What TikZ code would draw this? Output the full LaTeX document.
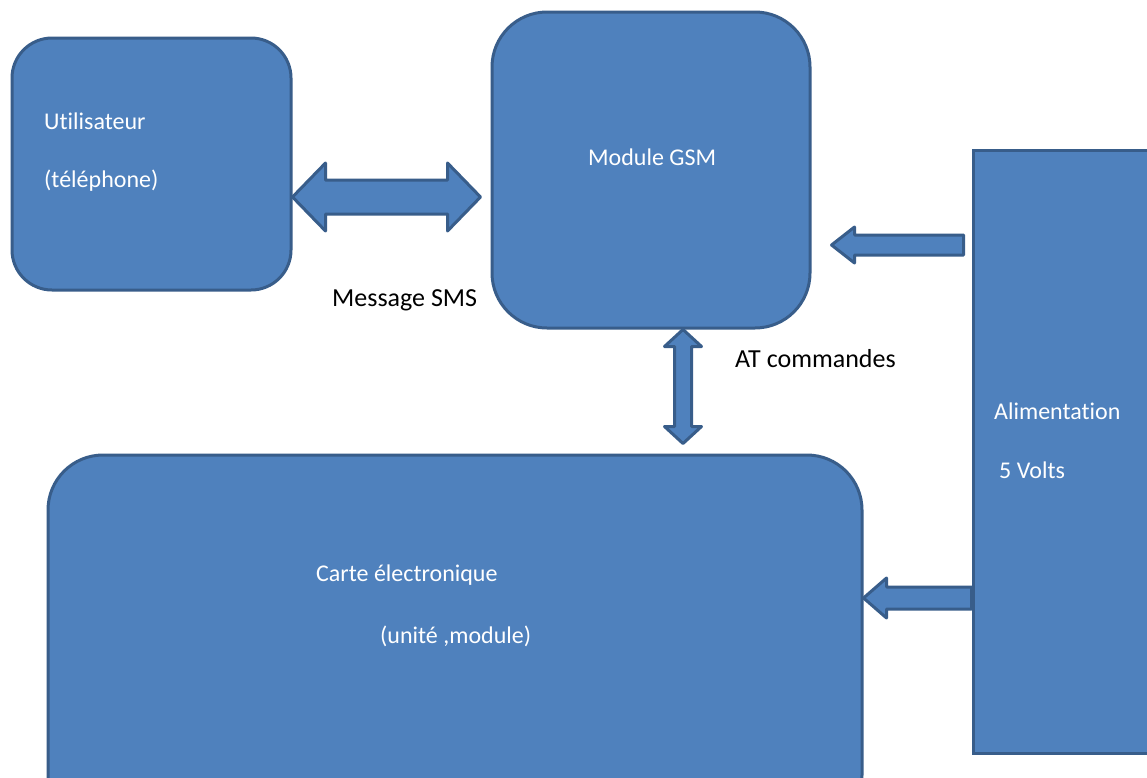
\documentclass[tikz,border=0pt]{standalone}
\usepackage{fontspec}
\setmainfont{Carlito}[Ligatures=CommonOff]
\usetikzlibrary{calc}
\definecolor{blu}{HTML}{4F81BD}
\definecolor{bord}{HTML}{385D8A}
\tikzset{
  box/.style={draw=bord, fill=blu, line width=3pt, inner sep=0pt},
  wtxt/.style={text=white, font=\fontsize{24}{28}\selectfont, anchor=base west, inner sep=0pt},
  btxt/.style={text=black, font=\fontsize{26}{30}\selectfont, anchor=base west, inner sep=0pt},
  shaftw/.store in=\bShaft, headw/.store in=\bHead, headl/.store in=\bHeadL,
  arrowlook/.style={draw=bord, fill=blu, line width=3pt, line join=round},
  sarrow/.style={arrowlook, to path={
    ($(\tikztostart)!\bShaft!90:(\tikztotarget)$)
    -- ($(\tikztotarget)!\bHeadL!(\tikztostart)!\bShaft!90:(\tikztotarget)$)
    -- ($(\tikztotarget)!\bHeadL!(\tikztostart)!\bHead!90:(\tikztotarget)$)
    -- (\tikztotarget)
    -- ($(\tikztotarget)!\bHeadL!(\tikztostart)!\bHead!-90:(\tikztotarget)$)
    -- ($(\tikztotarget)!\bHeadL!(\tikztostart)!\bShaft!-90:(\tikztotarget)$)
    -- ($(\tikztostart)!\bShaft!-90:(\tikztotarget)$)
    -- cycle}},
  darrow/.style={arrowlook, to path={
    (\tikztostart)
    -- ($(\tikztostart)!\bHeadL!(\tikztotarget)!\bHead!90:(\tikztotarget)$)
    -- ($(\tikztostart)!\bHeadL!(\tikztotarget)!\bShaft!90:(\tikztotarget)$)
    -- ($(\tikztotarget)!\bHeadL!(\tikztostart)!\bShaft!90:(\tikztotarget)$)
    -- ($(\tikztotarget)!\bHeadL!(\tikztostart)!\bHead!90:(\tikztotarget)$)
    -- (\tikztotarget)
    -- ($(\tikztotarget)!\bHeadL!(\tikztostart)!\bHead!-90:(\tikztotarget)$)
    -- ($(\tikztotarget)!\bHeadL!(\tikztostart)!\bShaft!-90:(\tikztotarget)$)
    -- ($(\tikztostart)!\bHeadL!(\tikztotarget)!\bShaft!-90:(\tikztotarget)$)
    -- ($(\tikztostart)!\bHeadL!(\tikztotarget)!\bHead!-90:(\tikztotarget)$)
    -- cycle}},
}
\begin{document}
\begin{tikzpicture}[x=1pt, y=-1pt]
  \useasboundingbox (0,0) rectangle (1147,777);
  \fill[white] (0,0) rectangle (1147,777);
  \clip (0,0) rectangle (1147,777);
  % boxes
  \node[box, rounded corners=40pt, minimum width=279pt, minimum height=252pt] (u) at (151.5,164) {};
  \node[box, rounded corners=55pt, minimum width=318pt, minimum height=316pt] (gsm) at (651,170) {};
  \node[box, minimum width=187pt, minimum height=603pt] (alim) at (1066.5,451.5) {};
  \node[box, rounded corners=55pt, minimum width=814pt, minimum height=375pt] (carte) at (455,642.5) {};
  % connector end points
  \coordinate (h1) at (u.east |- 0,197);
  \coordinate (h2) at ($(gsm.west |- 0,197)+(-10,0)$);
  \coordinate (v1) at (gsm.south -| 683,0);
  \coordinate (v2) at ($(v1 |- carte.north)+(0,-10)$);
  \coordinate (g1) at ($(alim.west |- 0,245)+(-8,0)$);
  \coordinate (g2) at ($(gsm.east |- 0,245)+(20,0)$);
  \coordinate (c1) at (alim.west |- 0,598);
  \coordinate (c2) at (carte.east |- 0,598);
  % arrows
  \path[darrow, shaftw=17pt, headw=34pt, headl=33pt] (h1) to (h2);
  \path[darrow, shaftw=8.5pt, headw=18.5pt, headl=17pt] (v1) to (v2);
  \path[sarrow, shaftw=10pt, headw=18pt, headl=23pt] (g1) to (g2);
  \path[sarrow, shaftw=11pt, headw=20pt, headl=23pt] (c1) to (c2);
  % texts
  \node[wtxt] (tu1) at (44,129) {Utilisateur};
  \node[wtxt] (tu2) at (44,187) {(téléphone)};
  \node[wtxt] (tg) at (588,165) {Module GSM};
  \node[btxt] (tsms) at (332,306) {Message SMS};
  \node[btxt] (tat) at (735,367) {AT commandes};
  \node[wtxt] (ta1) at (994,419) {Alimentation};
  \node[wtxt] (ta2) at (999,478) {5 Volts};
  \node[wtxt] (tc1) at (316,581) {Carte électronique};
  \node[wtxt] (tc2) at (380,643) {(unité ,module)};
\end{tikzpicture}
\end{document}
